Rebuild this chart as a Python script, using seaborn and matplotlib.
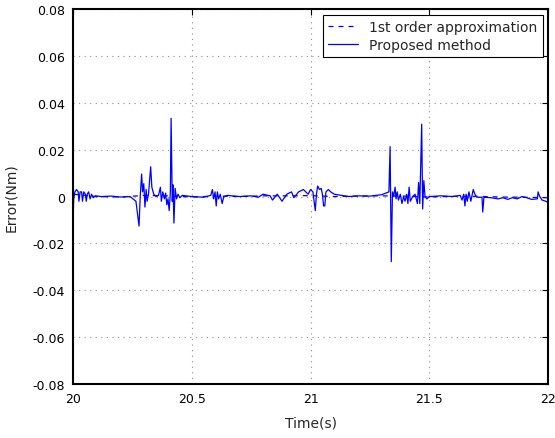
import pandas as pd
import matplotlib.pyplot as plt
import seaborn as sns

# Error signals
t_proposed = [
    20.000, 20.003, 20.008, 20.015, 20.022, 20.025, 20.030, 20.036, 20.040, 20.045,
    20.052, 20.056, 20.060, 20.066, 20.072, 20.078, 20.085, 20.095, 20.120, 20.160,
    20.200, 20.240, 20.265, 20.278, 20.283, 20.289, 20.293, 20.298, 20.303, 20.308,
    20.312, 20.318, 20.327, 20.332, 20.340, 20.350, 20.360, 20.368, 20.372, 20.378,
    20.385, 20.390, 20.395, 20.400, 20.405, 20.410, 20.413, 20.418, 20.421, 20.425,
    20.430, 20.436, 20.442, 20.450, 20.460, 20.500, 20.550, 20.580, 20.587, 20.592,
    20.598, 20.603, 20.608, 20.613, 20.620, 20.628, 20.635, 20.650, 20.700, 20.750,
    20.780, 20.800, 20.830, 20.840, 20.860, 20.880, 20.900, 20.920, 20.930, 20.950,
    20.970, 20.990, 21.000, 21.010, 21.020, 21.025, 21.030, 21.038, 21.045, 21.050,
    21.055, 21.060, 21.065, 21.075, 21.085, 21.100, 21.130, 21.160, 21.200, 21.250,
    21.300, 21.330, 21.335, 21.340, 21.345, 21.350, 21.356, 21.360, 21.365, 21.370,
    21.378, 21.385, 21.392, 21.398, 21.405, 21.410, 21.415, 21.420, 21.430, 21.440,
    21.450, 21.455, 21.460, 21.468, 21.472, 21.477, 21.482, 21.490, 21.500, 21.550,
    21.600, 21.630, 21.638, 21.645, 21.650, 21.655, 21.660, 21.667, 21.675, 21.685,
    21.692, 21.700, 21.722, 21.725, 21.730, 21.760, 21.790, 21.810, 21.830, 21.850,
    21.870, 21.890, 21.910, 21.930, 21.955, 21.958, 21.965, 21.975, 21.990, 22.000,
]
e_proposed = [
    -0.0120, -0.0010, 0.0020, 0.0030, 0.0020, -0.0020, 0.0020, 0.0020, -0.0020, 0.0020,
    0.0010, -0.0020, 0.0010, 0.0020, -0.0010, 0.0010, -0.0005, 0.0003, 0.0000, 0.0002,
    -0.0002, 0.0000, -0.0020, -0.0126, 0.0000, 0.0096, 0.0020, 0.0055, -0.0045, 0.0030,
    -0.0020, 0.0010, 0.0127, 0.0040, 0.0010, 0.0000, 0.0005, 0.0040, -0.0020, 0.0020,
    -0.0010, 0.0015, -0.0035, -0.0010, -0.0060, 0.0020, 0.0334, -0.0020, 0.0050, -0.0113,
    0.0035, -0.0010, 0.0010, -0.0005, 0.0005, 0.0000, -0.0003, 0.0005, 0.0030, -0.0010,
    0.0020, -0.0040, 0.0020, -0.0010, 0.0010, -0.0030, 0.0000, 0.0005, 0.0000, 0.0003,
    -0.0003, 0.0010, 0.0003, -0.0015, 0.0010, -0.0020, 0.0010, 0.0020, -0.0005, 0.0020,
    0.0030, 0.0010, 0.0030, 0.0020, -0.0060, 0.0010, 0.0045, 0.0030, 0.0035, 0.0010,
    -0.0040, -0.0040, 0.0020, 0.0030, 0.0020, 0.0010, 0.0005, 0.0000, 0.0003, 0.0002,
    0.0008, 0.0020, 0.0213, -0.0278, 0.0020, 0.0000, 0.0040, -0.0010, 0.0020, -0.0015,
    0.0010, -0.0030, 0.0000, -0.0020, 0.0010, -0.0030, 0.0040, -0.0020, 0.0000, 0.0010,
    -0.0030, 0.0060, -0.0030, 0.0309, -0.0053, 0.0068, 0.0000, -0.0010, 0.0000, 0.0003,
    0.0000, 0.0005, -0.0015, 0.0010, -0.0040, 0.0010, -0.0020, 0.0020, -0.0020, 0.0030,
    0.0010, -0.0003, -0.0003, -0.0066, -0.0003, -0.0005, -0.0010, -0.0005, -0.0012, -0.0005,
    -0.0010, 0.0000, -0.0005, -0.0012, -0.0010, 0.0020, 0.0000, -0.0015, -0.0020, -0.0025,
]

t_first = [20.00, 20.10, 20.20, 20.30, 20.40, 20.50, 20.60, 20.70, 20.80, 20.90,
           21.00, 21.10, 21.20, 21.30, 21.40, 21.50, 21.60, 21.70, 21.80, 21.90, 22.00]
e_first = [0.0010, 0.0000, -0.0002, 0.0005, 0.0003, -0.0002, 0.0002, 0.0000, 0.0003, 0.0003,
           0.0004, 0.0000, 0.0002, 0.0003, 0.0002, -0.0002, 0.0001, 0.0001, -0.0002, -0.0003, -0.0005]

sns.set_style("white")
plt.rcParams["font.family"] = "DejaVu Sans"

df1 = pd.DataFrame({"t": t_first, "e": e_first})
df2 = pd.DataFrame({"t": t_proposed, "e": e_proposed})

fig = plt.figure(figsize=(5.55, 4.39), dpi=100)
ax = fig.add_axes([0.1315, 0.123, 0.856, 0.854])

sns.lineplot(data=df1, x="t", y="e", ax=ax, color="#0000ff", linestyle=(0, (4, 4)),
             linewidth=0.9, estimator=None, sort=False, label="1st order approximation")
sns.lineplot(data=df2, x="t", y="e", ax=ax, color="#0000ff", linewidth=0.9,
             estimator=None, sort=False, label="Proposed method")

ax.set_xlim(20, 22)
ax.set_ylim(-0.08, 0.08)
ax.set_xticks([20, 20.5, 21, 21.5, 22])
ax.set_xticklabels(["20", "20.5", "21", "21.5", "22"])
ax.set_yticks([-0.08, -0.06, -0.04, -0.02, 0, 0.02, 0.04, 0.06, 0.08])
ax.set_yticklabels(["-0.08", "-0.06", "-0.04", "-0.02", "0", "0.02", "0.04", "0.06", "0.08"])

# MATLAB-like look: dotted grid, full box, inward ticks
ax.grid(True, linestyle=(0, (1, 4)), color="#8c8c8c", linewidth=0.8)
for s in ax.spines.values():
    s.set_visible(True)
    s.set_color("black")
    s.set_linewidth(1.5)
ax.tick_params(direction="in", top=True, right=True, length=4, width=0.8,
               labelsize=9, colors="black", pad=6)

ax.set_xlabel("Time(s)", fontsize=10, labelpad=7)
ax.set_ylabel("Error(Nm)", fontsize=10, labelpad=10)

leg = ax.legend(loc="upper right", fontsize=10, frameon=True, fancybox=False,
                borderaxespad=0.4, handlelength=2.2, labelspacing=0.3, borderpad=0.35)
leg.get_frame().set_edgecolor("black")
leg.get_frame().set_linewidth(0.8)
leg.get_frame().set_alpha(1.0)

plt.savefig("out.png", dpi=100)
